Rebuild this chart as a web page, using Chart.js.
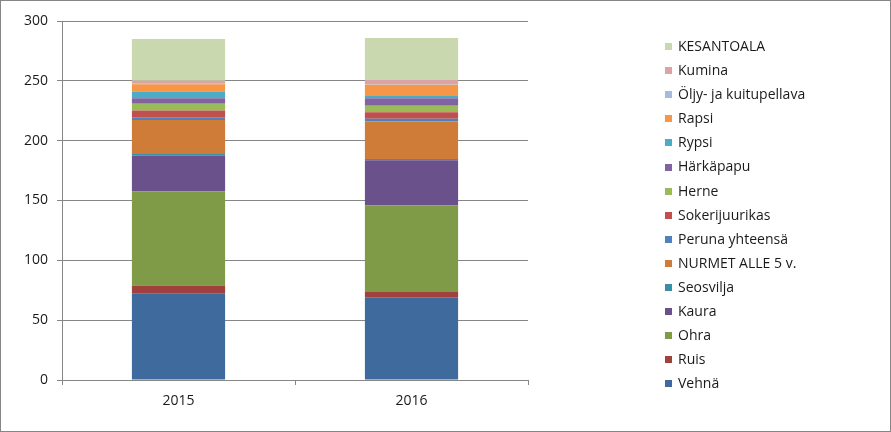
<!DOCTYPE html>
<html>

<head>
  <title>Viljelyala</title>
  <script src="https://cdn.jsdelivr.net/npm/chart.js"></script>
  <style>
    body { margin: 0; background: #fff; }
    #wrap { width: 891px; height: 432px; }
  </style>
</head>

<body>
  <div id="wrap"><canvas id="cropChart" width="891" height="432"></canvas></div>

  <script>
    const years = ['2015', '2016'];

    // stacked bottom-up, values
    const vehna = [72.0, 69.2];
    const ruis = [6.9, 4.4];
    const ohra = [78.7, 72.2];
    const kaura = [29.8, 37.8];
    const seosvilja = [1.5, 1.0];
    const nurmet = [28.3, 31.6];
    const peruna = [2.3, 2.2];
    const sokerijuurikas = [5.7, 5.4];
    const herne = [5.6, 5.4];
    const harkapapu = [4.7, 6.3];
    const rypsi = [5.6, 1.8];
    const rapsi = [6.1, 9.5];
    const oljypellava = [0.3, 0.3];
    const kumina = [2.5, 3.6];
    const kesantoala = [34.9, 35.1];

    const yTicks = [0, 50, 100, 150, 200, 250, 300];

    const series = [
      ['Vehnä', vehna, '#3f6a9e'],
      ['Ruis', ruis, '#a0413e'],
      ['Ohra', ohra, '#7f9b48'],
      ['Kaura', kaura, '#6a518b'],
      ['Seosvilja', seosvilja, '#3a8fa8'],
      ['NURMET ALLE 5 v.', nurmet, '#cf7c38'],
      ['Peruna yhteensä', peruna, '#4f81bd'],
      ['Sokerijuurikas', sokerijuurikas, '#c0504d'],
      ['Herne', herne, '#9bbb59'],
      ['Härkäpapu', harkapapu, '#8064a2'],
      ['Rypsi', rypsi, '#4bacc6'],
      ['Rapsi', rapsi, '#f79646'],
      ['Öljy- ja kuitupellava', oljypellava, '#a7b9dc'],
      ['Kumina', kumina, '#dba4a2'],
      ['KESANTOALA', kesantoala, '#c9d8ae']
    ];

    const FONT = '"Open Sans", sans-serif';
    const GRID = '#868686';

    // legend on the right, top item is the last series
    const sideLegend = {
      id: 'sideLegend',
      afterDraw(chart) {
        const ctx = chart.ctx;
        ctx.save();
        ctx.font = '14px ' + FONT;
        ctx.textBaseline = 'middle';
        const sets = chart.data.datasets;
        for (let i = 0; i < sets.length; i++) {
          const ds = sets[sets.length - 1 - i];
          const y = 46 + i * 24.1;
          ctx.fillStyle = ds.backgroundColor;
          ctx.fillRect(665, Math.round(y) - 3, 7, 7);
          ctx.fillStyle = '#1a1a1a';
          ctx.fillText(ds.label, 678, y + 1);
        }
        ctx.strokeStyle = GRID;
        ctx.lineWidth = 1;
        ctx.strokeRect(0.5, 0.5, 890, 431);
        ctx.restore();
      }
    };

    const ctx = document.getElementById('cropChart').getContext('2d');
    const cropChart = new Chart(ctx, {
      type: 'bar',
      data: {
        labels: years,
        datasets: series.map(s => ({
          label: s[0],
          data: s[1],
          backgroundColor: s[2],
          borderWidth: 0,
          categoryPercentage: 0.4,
          barPercentage: 1
        }))
      },
      options: {
        responsive: false,
        animation: false,
        layout: { padding: { left: 0, top: 21, right: 363, bottom: 0 } },
        plugins: {
          legend: { display: false },
          tooltip: { enabled: false }
        },
        scales: {
          x: {
            stacked: true,
            afterFit: s => { s.height = 52; },
            grid: { drawOnChartArea: false, drawTicks: true, tickLength: 5, color: GRID, offset: true },
            border: { color: GRID },
            ticks: { color: '#1a1a1a', font: { family: FONT, size: 14 }, padding: 8 }
          },
          y: {
            stacked: true,
            min: 0,
            max: 300,
            afterFit: s => { s.width = 62; },
            afterBuildTicks: s => { s.ticks = yTicks.map(v => ({ value: v })); },
            grid: { color: GRID, tickLength: 5 },
            border: { color: GRID },
            ticks: { color: '#1a1a1a', font: { family: FONT, size: 14 }, padding: 9 }
          }
        }
      },
      plugins: [sideLegend]
    });
  </script>
</body>

</html>
